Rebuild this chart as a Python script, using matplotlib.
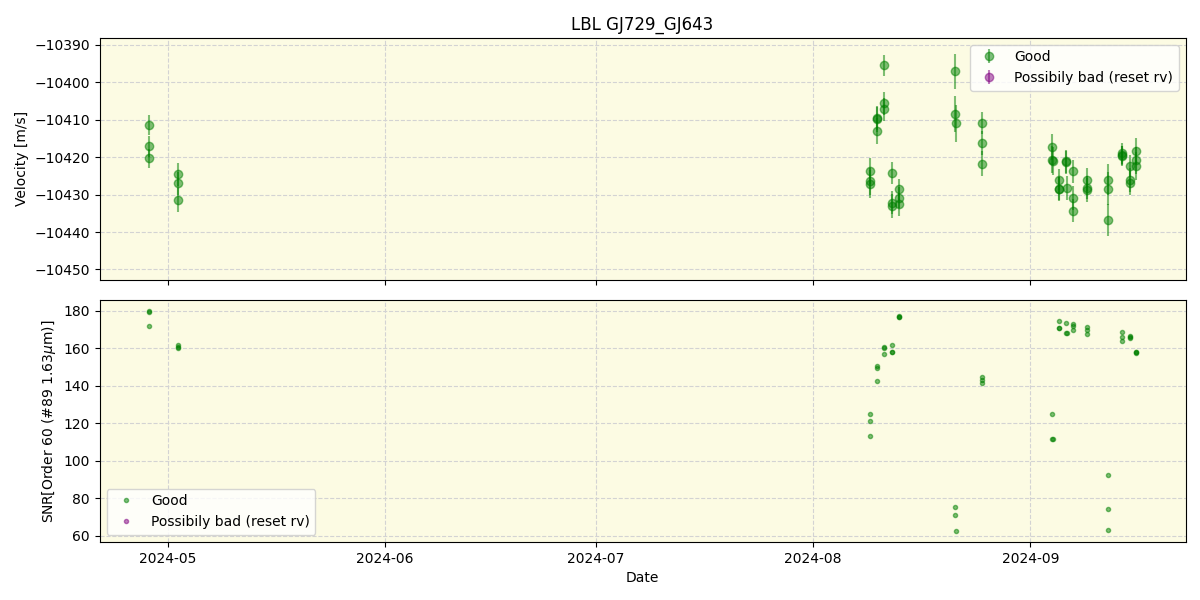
import numpy as np
import pandas as pd
import matplotlib
matplotlib.use('Agg')
import matplotlib.pyplot as plt
import matplotlib.dates as mdates

# observation times (3 exposures per night)
dates = pd.to_datetime([
    '2024-04-28 07:00', '2024-04-28 07:20', '2024-04-28 07:40',
    '2024-05-02 10:00', '2024-05-02 10:20', '2024-05-02 10:40',
    '2024-08-09 02:00', '2024-08-09 02:20', '2024-08-09 02:40',
    '2024-08-10 02:00', '2024-08-10 02:20', '2024-08-10 02:40',
    '2024-08-11 03:00', '2024-08-11 03:20', '2024-08-11 03:40',
    '2024-08-12 07:00', '2024-08-12 07:20', '2024-08-12 07:40',
    '2024-08-13 07:00', '2024-08-13 07:20', '2024-08-13 07:40',
    '2024-08-21 07:00', '2024-08-21 07:20', '2024-08-21 07:40',
    '2024-08-25 02:00', '2024-08-25 02:20', '2024-08-25 02:40',
    '2024-09-04 03:00', '2024-09-04 03:20', '2024-09-04 03:40',
    '2024-09-05 00:30', '2024-09-05 00:50', '2024-09-05 01:10',
    '2024-09-06 03:00', '2024-09-06 03:20', '2024-09-06 03:40',
    '2024-09-07 02:00', '2024-09-07 02:20', '2024-09-07 02:40',
    '2024-09-09 00:00', '2024-09-09 00:20', '2024-09-09 00:40',
    '2024-09-12 00:00', '2024-09-12 00:20', '2024-09-12 00:40',
    '2024-09-14 02:00', '2024-09-14 02:20', '2024-09-14 02:40',
    '2024-09-15 04:00', '2024-09-15 04:20', '2024-09-15 04:40',
    '2024-09-16 02:00', '2024-09-16 02:20', '2024-09-16 02:40',
])

rv = [
    -10411.4, -10417.1, -10420.3,
    -10424.6, -10427.0, -10431.5,
    -10423.8, -10426.4, -10427.1,
    -10409.5, -10409.9, -10413.1,
    -10395.4, -10405.6, -10407.2,
    -10424.2, -10432.2, -10433.0,
    -10428.6, -10430.8, -10432.6,
    -10397.0, -10408.5, -10411.0,
    -10410.9, -10416.3, -10421.7,
    -10417.2, -10420.7, -10421.1,
    -10426.0, -10428.4, -10428.5,
    -10421.1, -10421.4, -10428.2,
    -10423.8, -10430.9, -10434.3,
    -10426.0, -10428.2, -10428.7,
    -10426.0, -10428.4, -10436.8,
    -10419.5, -10419.7, -10419.0,
    -10422.4, -10426.1, -10427.0,
    -10418.3, -10420.8, -10422.4,
]

rv_err = [
    2.7, 2.8, 2.6,
    3.0, 3.1, 3.2,
    3.5, 3.6, 3.8,
    3.3, 3.4, 3.5,
    2.8, 3.0, 3.1,
    3.0, 3.1, 3.2,
    2.8, 2.9, 3.0,
    4.7, 4.8, 4.9,
    3.0, 3.2, 3.3,
    3.5, 3.6, 3.7,
    2.9, 3.0, 3.1,
    3.0, 3.1, 3.2,
    3.0, 3.2, 3.1,
    3.0, 3.1, 3.2,
    4.2, 4.4, 4.3,
    2.5, 2.6, 2.7,
    3.0, 3.1, 3.2,
    3.5, 3.6, 3.7,
]

snr = [
    180.0, 179.5, 172.0,
    161.8, 160.8, 160.2,
    125.2, 121.0, 113.0,
    150.6, 149.4, 142.5,
    161.0, 160.2, 157.0,
    161.8, 158.3, 157.9,
    177.4, 177.0, 176.6,
    75.3, 71.1, 62.5,
    144.5, 143.3, 141.5,
    125.2, 111.9, 111.5,
    174.5, 170.8, 171.0,
    173.5, 168.4, 168.1,
    172.9, 171.7, 169.8,
    171.5, 169.6, 167.7,
    92.3, 74.3, 63.1,
    168.9, 166.1, 163.8,
    166.4, 166.1, 165.8,
    158.1, 157.9, 157.7,
]

bg = '#fcfbe3'
fig, (ax1, ax2) = plt.subplots(2, 1, figsize=(12, 6), dpi=100, sharex=True)
fig.subplots_adjust(left=0.083, right=0.988, top=0.937, bottom=0.097, hspace=0.085)

ax1.errorbar(dates, rv, yerr=rv_err, fmt='o', color='green', alpha=0.5,
             markersize=6, elinewidth=1.5, label='Good')
ax1.errorbar([], [], yerr=[], fmt='o', color='purple', alpha=0.5,
             markersize=6, elinewidth=1.5, label='Possibily bad (reset rv)')
ax1.set_ylabel('Velocity [m/s]')
ax1.set_title('LBL GJ729_GJ643')
ax1.set_ylim(-10452.7, -10388.1)
ax1.set_yticks(np.arange(-10450, -10389, 10))
ax1.legend(loc='upper right')

ax2.plot(dates, snr, 'o', color='green', alpha=0.5, markersize=3, label='Good')
ax2.plot([], [], 'o', color='purple', alpha=0.5, markersize=3,
         label='Possibily bad (reset rv)')
ax2.set_ylabel('SNR[Order 60 (#89 1.63$\\mu$m)]')
ax2.set_xlabel('Date')
ax2.set_ylim(56.8, 185.8)
ax2.legend(loc='lower left')

for ax in (ax1, ax2):
    ax.set_facecolor(bg)
    ax.grid(True, linestyle='--', color='lightgray')

ax2.set_xlim(pd.Timestamp('2024-04-21 07:00'), pd.Timestamp('2024-09-23 03:00'))
ax2.xaxis.set_major_locator(mdates.MonthLocator())
ax2.xaxis.set_major_formatter(mdates.DateFormatter('%Y-%m'))

fig.savefig('out.png')
